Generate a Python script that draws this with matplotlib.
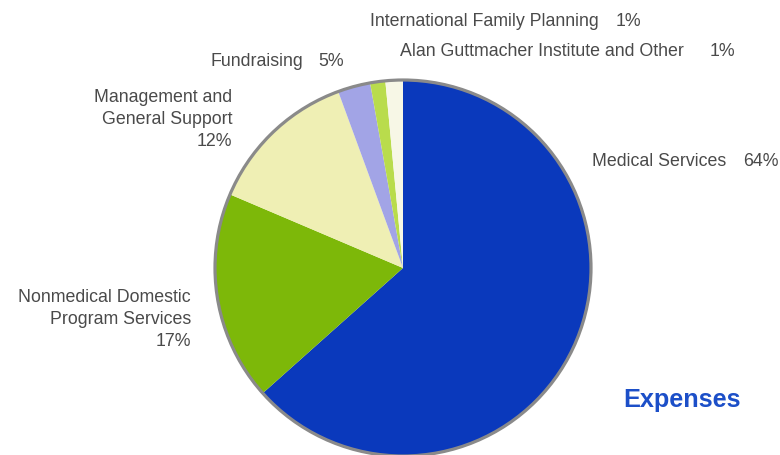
import matplotlib
matplotlib.use("Agg")
import matplotlib.pyplot as plt
from matplotlib.patches import Circle

plt.rcParams['font.family'] = ['Liberation Sans', 'DejaVu Sans']

# Data (slice sizes; printed labels as in the chart)
categories = ["Medical Services", "Nonmedical Domestic\nProgram Services",
              "Management and\nGeneral Support", "Fundraising",
              "International Family Planning", "Alan Guttmacher Institute and Other"]
slice_values = [63.4, 18.0, 13.0, 2.8, 1.3, 1.5]
label_pcts = ["64%", "17%", "12%", "5%", "1%", "1%"]
colors = ["#0a39bc", "#7db809", "#efefb4", "#a2a4e6", "#b9dc4c", "#f7f7e6"]

W, H = 780, 455
fig = plt.figure(figsize=(W / 100, H / 100), dpi=100)
ax = fig.add_axes([0, 0, 1, 1])

cx, cy, r = 403, H - 268, 188
ax.pie(slice_values, colors=colors, startangle=90, counterclock=False,
       center=(cx, cy), radius=r, wedgeprops=dict(linewidth=0), frame=True)
ax.set_xlim(0, W)
ax.set_ylim(0, H)
ax.set_aspect('equal')
ax.axis('off')
ax.add_patch(Circle((cx, cy), r, fill=False, edgecolor="#8a8a8a", linewidth=2.3, zorder=5))

tc = "#4a4a4a"
fs = 12.8

def y(p):
    return H - p

def one_line(name, pct, x0, xp, yp):
    ax.text(x0, y(yp), name, color=tc, fontsize=fs, ha='left', va='center')
    ax.text(xp, y(yp), pct, color=tc, fontsize=fs, ha='left', va='center')

def multi_line(name, pct, xr, ys):
    lines = name.split("\n") + [pct]
    for line, yp in zip(lines, ys):
        ax.text(xr, y(yp), line, color=tc, fontsize=fs, ha='right', va='center')

one_line(categories[0], label_pcts[0], 592, 743, 162)
multi_line(categories[1], label_pcts[1], 191, [297, 320, 342])
multi_line(categories[2], label_pcts[2], 232, [97, 120, 142])
one_line(categories[3], label_pcts[3], 211, 318, 62)
one_line(categories[4], label_pcts[4], 370, 616, 22)
one_line(categories[5], label_pcts[5], 400, 710, 52)

ax.text(623, y(400), "Expenses", color="#1c4fc8", fontsize=18.2, fontweight='bold',
        ha='left', va='center')

fig.savefig("out.png", dpi=100, facecolor='white')
